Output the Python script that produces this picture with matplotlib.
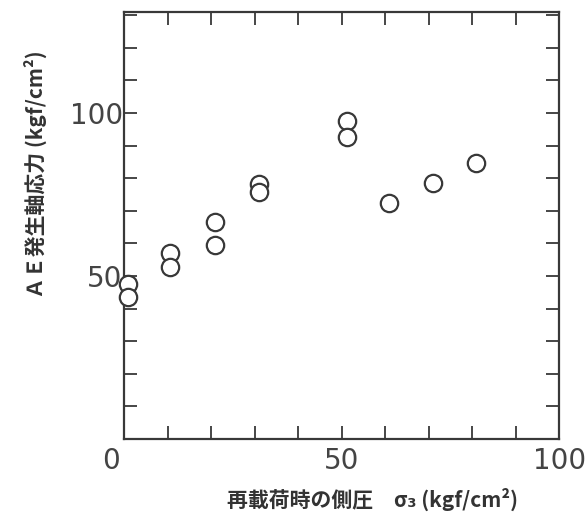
import numpy as np
import matplotlib
matplotlib.use("Agg")
import matplotlib.pyplot as plt
import matplotlib.transforms as mtransforms

plt.rcParams['font.family'] = ['Noto Sans CJK JP', 'DejaVu Sans']

# lateral pressure at reloading (kgf/cm2) and AE onset axial stress (kgf/cm2)
sigma3 = [0.8, 0.8, 10.6, 10.6, 20.9, 20.9, 31.0, 31.0, 51.2, 51.2, 61.0, 71.0, 80.9]
ae_stress = [47.4, 43.6, 57.0, 52.8, 66.6, 59.6, 78.3, 75.7, 97.6, 92.7, 72.5, 78.4, 84.8]

x_ticklabels = ["0", "50", "100"]
y_ticklabels = ["50", "100"]

ink = "#383838"

fig = plt.figure(figsize=(5.88, 5.20), dpi=100)
ax = fig.add_axes([0.211, 0.156, 0.740, 0.821])

ax.plot(sigma3, ae_stress, linestyle="none", marker="o", markersize=12.5,
        markerfacecolor="white", markeredgecolor=ink, markeredgewidth=1.6,
        clip_on=False, zorder=3)

ax.set_xlim(0, 100)
ax.set_ylim(0, 131)

xt = np.arange(0, 101, 10)
yt = np.arange(0, 131, 10)
ax.set_xticks(xt)
ax.set_xticklabels([x_ticklabels[int(t // 50)] if t % 50 == 0 else "" for t in xt])
ax.set_yticks(yt)
ax.set_yticklabels([y_ticklabels[int(t // 50) - 1] if t in (50, 100) else "" for t in yt])

ax.tick_params(direction="in", length=9.5, width=1.3, color=ink,
               top=True, right=True, labelsize=20, labelcolor="#444444")
ax.tick_params(axis="x", pad=6)
ax.tick_params(axis="y", pad=1)
for lab in ax.get_xticklabels() + ax.get_yticklabels():
    lab.set_fontfamily("DejaVu Sans")

for sp in ax.spines.values():
    sp.set_color(ink)
    sp.set_linewidth(1.6)

# the "0" sits a bit left of the origin in the original
lab0 = ax.get_xticklabels()[0]
lab0.set_transform(lab0.get_transform() +
                   mtransforms.ScaledTranslation(-13 / 100, 0, fig.dpi_scale_trans))

fig.text(0.633, 0.040, "再載荷時の側圧　σ₃ (kgf/cm²)", ha="center", va="center",
         fontsize=15, fontweight="bold", color="#333333")
fig.text(0.060, 0.665, "ＡＥ発生軸応力 (kgf/cm²)", ha="center", va="center",
         rotation=90, fontsize=15, fontweight="bold", color="#333333")

fig.savefig("out.png", dpi=100)
